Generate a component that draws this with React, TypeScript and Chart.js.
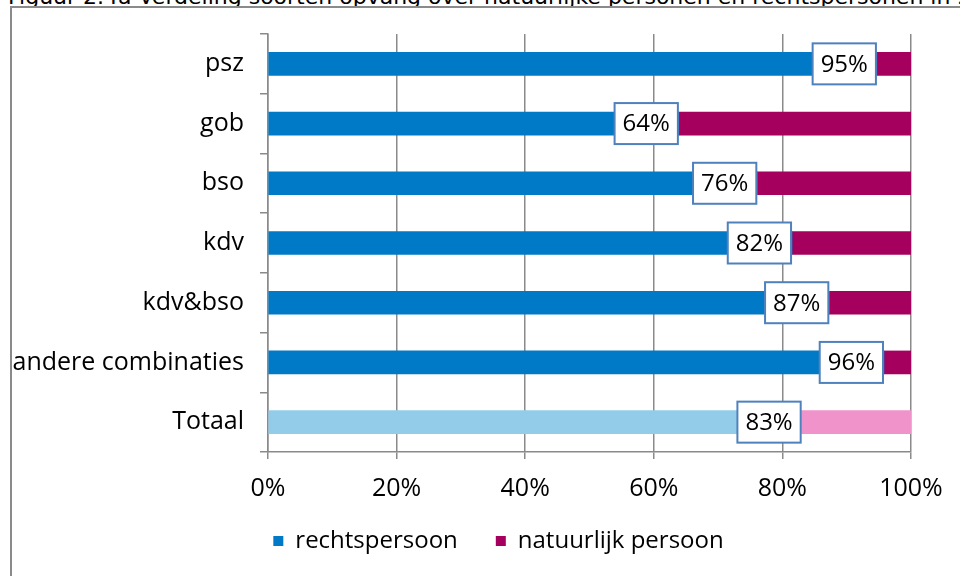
import React, { useEffect, useRef } from "react";
import { Chart, registerables } from "chart.js";

Chart.register(...registerables);

// ---- data ----
const categories = ["psz", "gob", "bso", "kdv", "kdv&bso", "andere combinaties", "Totaal"];
const rechtspersoon = [94.7, 63.9, 76.1, 81.5, 87.3, 95.8, 83.0];
const natuurlijkPersoon = [5.3, 36.1, 23.9, 18.5, 12.7, 4.2, 17.0];
const seriesNames = ["rechtspersoon", "natuurlijk persoon"];
const xTickValues = [0, 20, 40, 60, 80, 100];
const titleText = "Figuur 2.4a Verdeling soorten opvang over natuurlijke personen en rechtspersonen in 2012";

// ---- styles ----
const BLUE = "#0079C6";
const BLUE_LIGHT = "#93CCE8";
const MAGENTA = "#A6005F";
const PINK = "#F093CB";
const GRID = "#8A8A8A";
const FONT = '"Open Sans", "DejaVu Sans", sans-serif';

const boxLabelPlugin = {
  id: "boxLabels",
  afterDatasetsDraw(chart: any) {
    const meta = chart.getDatasetMeta(0);
    const ctx = chart.ctx;
    ctx.save();
    ctx.font = `24px ${FONT}`;
    meta.data.forEach((bar: any, i: number) => {
      const text = Math.round(rechtspersoon[i]) + "%";
      const w = ctx.measureText(text).width + 16;
      const h = 41;
      const right = bar.x - 1;
      const left = right - w;
      const top = bar.y - h / 2;
      ctx.fillStyle = "#FFFFFF";
      ctx.fillRect(left, top, w, h);
      ctx.strokeStyle = "#4F81BD";
      ctx.lineWidth = 2;
      ctx.strokeRect(left, top, w, h);
      ctx.fillStyle = "#000000";
      ctx.textAlign = "center";
      ctx.textBaseline = "middle";
      ctx.fillText(text, left + w / 2, bar.y + 1);
    });
    ctx.restore();
  },
};

// moves the legend block to where the reference has it
const legendShiftPlugin = {
  id: "legendShift",
  afterLayout(chart: any) {
    const l = chart.legend;
    if (!l) return;
    const dx = 43;
    const targetCenterY = 542;
    const currentCenterY = l.top + 51;
    const dy = targetCenterY - currentCenterY;
    l.left += dx;
    l.right += dx;
    l.top += dy;
    l.bottom += dy;
  },
};

export default function App() {
  const canvasRef = useRef<HTMLCanvasElement | null>(null);

  useEffect(() => {
    let chart: Chart | null = null;
    let cancelled = false;
    const make = () => {
      if (cancelled || !canvasRef.current) return;
      const n = categories.length;
      chart = new Chart(canvasRef.current, {
        type: "bar",
        data: {
          labels: categories,
          datasets: [
            {
              label: seriesNames[0],
              data: rechtspersoon,
              backgroundColor: categories.map((_, i) => (i === n - 1 ? BLUE_LIGHT : BLUE)),
              barThickness: 23,
            },
            {
              label: seriesNames[1],
              data: natuurlijkPersoon,
              backgroundColor: categories.map((_, i) => (i === n - 1 ? PINK : MAGENTA)),
              barThickness: 23,
            },
          ],
        },
        options: {
          indexAxis: "y",
          responsive: false,
          animation: false,
          devicePixelRatio: 1,
          layout: { padding: { left: 0, right: 49, top: 34, bottom: -8 } },
          scales: {
            x: {
              stacked: true,
              min: 0,
              max: 100,
              afterBuildTicks: (s: any) => {
                s.ticks = xTickValues.map((v) => ({ value: v }));
              },
              afterFit: (s: any) => {
                s.height = 60;
                s.paddingLeft = 0;
                s.paddingRight = 0;
              },
              ticks: {
                callback: (v: any) => v + "%",
                color: "#000",
                font: { family: FONT, size: 25 },
                padding: 15,
                maxRotation: 0,
              },
              grid: { color: GRID, lineWidth: 1.5, tickLength: 7 },
              border: { color: GRID, width: 1.5 },
            },
            y: {
              stacked: true,
              afterFit: (s: any) => {
                s.width = 268;
                s.paddingTop = 0;
                s.paddingBottom = 0;
              },
              ticks: {
                color: "#000",
                font: { family: FONT, size: 25 },
                padding: 16,
              },
              grid: { drawOnChartArea: false, drawTicks: true, tickLength: 8, color: GRID, lineWidth: 1.5 },
              border: { color: GRID, width: 1.5 },
            },
          },
          plugins: {
            title: { display: false },
            tooltip: { enabled: false },
            legend: {
              display: true,
              position: "bottom",
              labels: {
                boxWidth: 10,
                boxHeight: 10,
                padding: 38,
                color: "#000",
                font: { family: FONT, size: 24 },
                generateLabels: () =>
                  seriesNames.map((name, i) => ({
                    text: name,
                    fillStyle: i === 0 ? BLUE : MAGENTA,
                    strokeStyle: i === 0 ? BLUE : MAGENTA,
                    lineWidth: 0,
                    hidden: false,
                    datasetIndex: i,
                  })),
              },
            },
          },
        },
        plugins: [legendShiftPlugin, boxLabelPlugin],
      } as any);
    };
    const fontsApi: any = (document as any).fonts;
    if (fontsApi && fontsApi.load) {
      fontsApi.load('24px "Open Sans"').then(make, make);
    } else {
      make();
    }
    return () => {
      cancelled = true;
      if (chart) chart.destroy();
    };
  }, []);

  return (
    <div style={{ position: "absolute", left: 0, top: 0, width: 960, height: 576, overflow: "hidden", background: "#fff" }}>
      <div
        style={{
          position: "absolute",
          left: 8,
          top: -14,
          whiteSpace: "nowrap",
          fontFamily: '"DejaVu Sans", sans-serif',
          fontSize: 22,
          lineHeight: "22px",
          color: "#000",
        }}
      >
        {titleText}
      </div>
      <div
        style={{
          position: "absolute",
          left: 10,
          top: 6,
          width: 980,
          height: 600,
          border: "2px solid #8A8A8A",
          boxSizing: "border-box",
        }}
      />
      <canvas ref={canvasRef} width={960} height={576} style={{ position: "absolute", left: 0, top: 0, width: 960, height: 576 }} />
    </div>
  );
}
